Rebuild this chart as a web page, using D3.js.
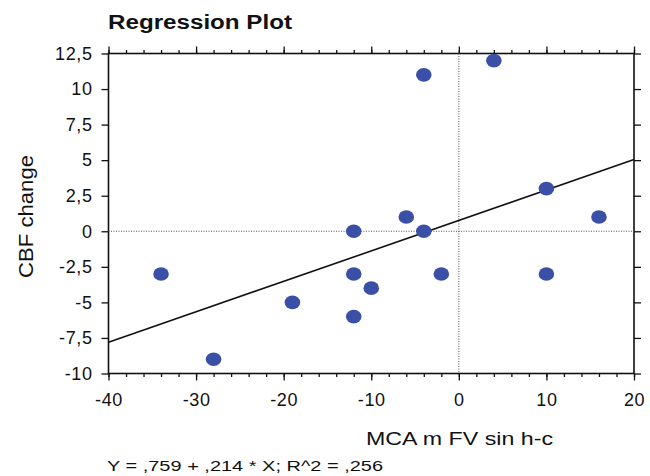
<!DOCTYPE html>
<html>
<head>
<meta charset="utf-8">
<script src="https://cdn.jsdelivr.net/npm/d3@7"></script>
<style>
  body { margin: 0; background: #fff; }
  svg { display: block; font-family: "Liberation Sans", Arial, sans-serif; }
</style>
</head>
<body>
<svg id="chart" width="650" height="476"></svg>
<script>
// scatter data
var xVals = [-34, -28, -19, -12, -12, -12, -10, -6, -4, -4, -2, 4, 10, 10, 16]
var yVals = [-3, -9, -5, 0, -3, -6, -4, 1, 11, 0, -3, 12, 3, -3, 1]
var xTicks = [-40, -30, -20, -10, 0, 10, 20]
var yTicks = [-10, -7.5, -5, -2.5, 0, 2.5, 5, 7.5, 10, 12.5]
var fitA = 0.759
var fitB = 0.214

var svg = d3.select('#chart')
// plot box (don't call these top/left, window.top is read-only)
var pLeft = 108.5, pRight = 634, pTop = 53.5, pBottom = 373.5

var x = d3.scaleLinear().domain([-40, 20]).range([pLeft, pRight])
var y = d3.scaleLinear().domain([-10, 12.5]).range([pBottom, pTop])
var fmt = function (d) { return String(d).replace('.', ',') }

var minorX = d3.range(-40, 20.01, 2)

// top axis: major + minor ticks, no labels
svg.append('g').attr('transform', 'translate(0,' + pTop + ')')
  .call(d3.axisTop(x).tickValues(minorX).tickSize(3.5).tickFormat(''))
svg.append('g').attr('transform', 'translate(0,' + pTop + ')')
  .call(d3.axisTop(x).tickValues(xTicks).tickSize(7).tickFormat(''))

// bottom axis with labels
svg.append('g').attr('transform', 'translate(0,' + pBottom + ')')
  .call(d3.axisBottom(x).tickValues(minorX).tickSize(3.5).tickFormat(''))
svg.append('g').attr('transform', 'translate(0,' + pBottom + ')')
  .call(d3.axisBottom(x).tickValues(xTicks).tickSize(7).tickPadding(13).tickFormat(fmt))

// left axis with labels, right axis ticks only
svg.append('g').attr('transform', 'translate(' + pLeft + ',0)')
  .call(d3.axisLeft(y).tickValues(yTicks).tickSize(7).tickPadding(9).tickFormat(fmt))
svg.append('g').attr('transform', 'translate(' + pRight + ',0)')
  .call(d3.axisRight(y).tickValues(yTicks).tickSize(7).tickFormat(''))

svg.selectAll('.domain').remove()
svg.selectAll('.tick line').attr('stroke', '#111').attr('stroke-width', 1.3)
svg.selectAll('.tick text').attr('fill', '#111').style('font-size', '18px')
  .style('letter-spacing', '0.6px')
  .style('font-family', '"Liberation Sans", Arial, sans-serif')

// frame
svg.append('rect')
  .attr('x', pLeft).attr('y', pTop)
  .attr('width', pRight - pLeft).attr('height', pBottom - pTop)
  .attr('fill', 'none').attr('stroke', '#111').attr('stroke-width', 1.6)

// dotted zero lines
svg.append('line')
  .attr('x1', x(0)).attr('x2', x(0)).attr('y1', pTop).attr('y2', pBottom)
  .attr('stroke', '#555').attr('stroke-width', 1).attr('stroke-dasharray', '1,1.5')
svg.append('line')
  .attr('x1', pLeft).attr('x2', pRight).attr('y1', y(0)).attr('y2', y(0))
  .attr('stroke', '#555').attr('stroke-width', 1).attr('stroke-dasharray', '1,1.5')

// fit line
svg.append('line')
  .attr('x1', x(-40)).attr('y1', y(fitA + fitB * -40))
  .attr('x2', x(20)).attr('y2', y(fitA + fitB * 20))
  .attr('stroke', '#111').attr('stroke-width', 1.6)

// points
var pts = xVals.map(function (d, i) { return { x: d, y: yVals[i] } })
svg.append('g').selectAll('ellipse').data(pts).enter()
  .append('ellipse')
  .attr('cx', function (d) { return x(d.x) })
  .attr('cy', function (d) { return y(d.y) })
  .attr('rx', 7.8).attr('ry', 6.8)
  .attr('fill', '#3a4fa6')

// texts
svg.append('text')
  .attr('x', 108).attr('y', 29)
  .attr('textLength', 184).attr('lengthAdjust', 'spacingAndGlyphs')
  .style('font-size', '20px').style('font-weight', 'bold')
  .attr('fill', '#111')
  .text('Regression Plot')

svg.append('text')
  .attr('x', 366).attr('y', 445)
  .attr('textLength', 187).attr('lengthAdjust', 'spacingAndGlyphs')
  .style('font-size', '19px').attr('fill', '#111')
  .text('MCA m FV sin h-c')

svg.append('text')
  .attr('transform', 'translate(33,216.5) rotate(-90)')
  .attr('text-anchor', 'middle')
  .attr('textLength', 123).attr('lengthAdjust', 'spacingAndGlyphs')
  .style('font-size', '20px').attr('fill', '#111')
  .text('CBF change')

svg.append('text')
  .attr('x', 107).attr('y', 471)
  .attr('textLength', 276).attr('lengthAdjust', 'spacingAndGlyphs')
  .style('font-size', '15px').attr('fill', '#111')
  .text('Y = ,759 + ,214 * X; R^2 = ,256')
</script>
</body>
</html>
